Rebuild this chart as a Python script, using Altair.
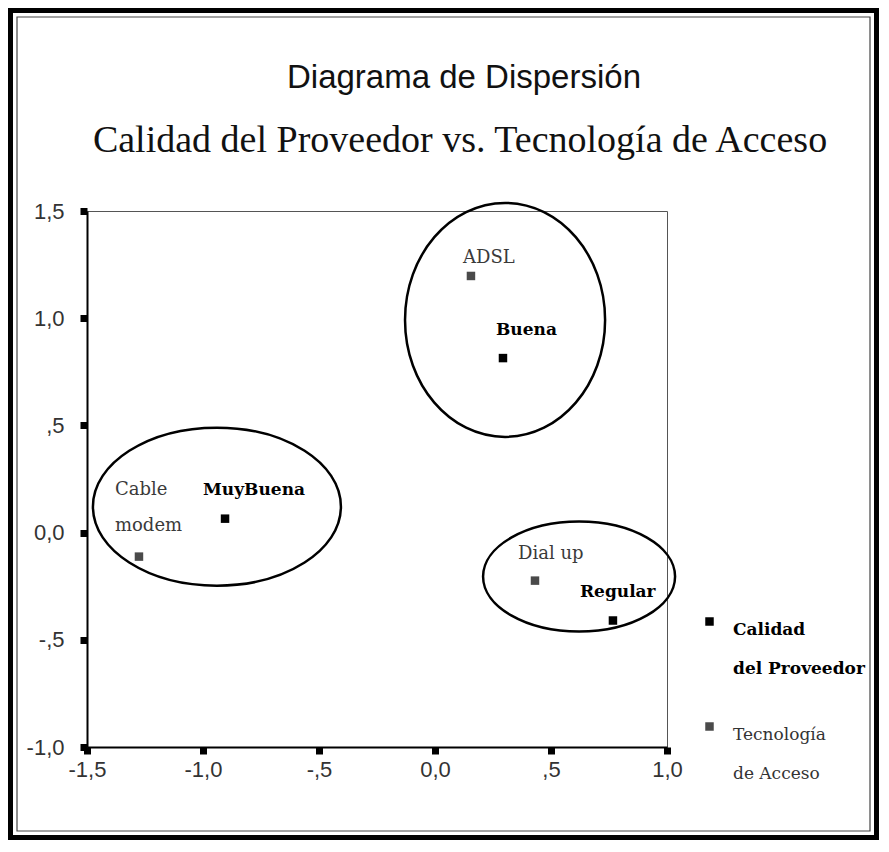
import altair as alt
import pandas as pd

# ---------------- data ----------------
title_1 = "Diagrama de Dispersión"
title_2 = "Calidad del Proveedor vs. Tecnología de Acceso"

series_names = ["Calidad del Proveedor", "Tecnología de Acceso"]
legend_lines = [["Calidad", "del Proveedor"], ["Tecnología", "de Acceso"]]

calidad_names = ["MuyBuena", "Buena", "Regular"]
calidad_x = [-0.905, 0.293, 0.767]
calidad_y = [0.065, 0.814, -0.410]

tecno_names = ["Cable\nmodem", "ADSL", "Dial up"]
tecno_x = [-1.276, 0.155, 0.431]
tecno_y = [-0.112, 1.197, -0.224]

# centres of the three grouping ellipses (data units)
group_names = ["g1", "g2", "g3"]
group_x = [-0.940, 0.302, 0.621]
group_y = [0.121, 0.992, -0.205]

x_tick_values = [-1.5, -1.0, -0.5, 0.0, 0.5, 1.0]
x_tick_labels = ["-1,5", "-1,0", "-,5", "0,0", ",5", "1,0"]
y_tick_values = [-1.0, -0.5, 0.0, 0.5, 1.0, 1.5]
y_tick_labels = ["-1,0", "-,5", "0,0", ",5", "1,0", "1,5"]

# ---------------- styles ----------------
W, H = 580, 536
label_offsets = {
    "MuyBuena": (-22, -24), "Buena": (-7, -23), "Regular": (-33, -24),
    "Cable\nmodem": (-24, -62), "ADSL": (-8, -13), "Dial up": (-17, -22),
}
ellipse_style = {
    "g1": ("M-1,0A1,0.637,0,1,1,1,0A1,0.637,0,1,1,-1,0Z", 248 ** 2),
    "g2": ("M0,-1A0.855,1,0,1,1,0,1A0.855,1,0,1,1,0,-1Z", 234 ** 2),
    "g3": ("M-1,0A1,0.573,0,1,1,1,0A1,0.573,0,1,1,-1,0Z", 192 ** 2),
}

def label_expr(vals, labs):
    s = "''"
    for v, l in reversed(list(zip(vals, labs))):
        s = f"datum.value == {v} ? '{l}' : ({s})"
    return s

legend_expr = (
    f"datum.value == '{series_names[0]}' ? ['{legend_lines[0][0]}','{legend_lines[0][1]}'] : "
    f"['{legend_lines[1][0]}','{legend_lines[1][1]}']"
)

points = pd.DataFrame({
    "name": calidad_names + tecno_names,
    "x": calidad_x + tecno_x,
    "y": calidad_y + tecno_y,
    "serie": [series_names[0]] * 3 + [series_names[1]] * 3,
})
groups = pd.DataFrame({"g": group_names, "x": group_x, "y": group_y})

xscale = alt.Scale(domain=[-1.5, 1.0], nice=False, zero=False)
yscale = alt.Scale(domain=[-1.0, 1.5], nice=False, zero=False)

X = alt.X("x:Q", scale=xscale, title=None,
          axis=alt.Axis(values=x_tick_values, labelExpr=label_expr(x_tick_values, x_tick_labels),
                        labelPadding=5, labelFlush=False))
Y = alt.Y("y:Q", scale=yscale, title=None,
          axis=alt.Axis(values=y_tick_values, labelExpr=label_expr(y_tick_values, y_tick_labels),
                        labelPadding=16, labelFlush=False))

one = alt.Data(values=[{"k": 0}])

# frame around the whole figure
frame_outer = alt.Chart(one).mark_rect(fill=None, stroke="black", strokeWidth=5).encode(
    x=alt.value(-76.5), x2=alt.value(789.5), y=alt.value(-200.5), y2=alt.value(626.5))
frame_inner = alt.Chart(one).mark_rect(fill=None, stroke="#444", strokeWidth=1.2).encode(
    x=alt.value(-70), x2=alt.value(783), y=alt.value(-194), y2=alt.value(620))

t1 = alt.Chart(one).mark_text(text=title_1, font="Liberation Sans", fontSize=33,
                              align="center", baseline="middle", color="#111").encode(
    x=alt.value(377), y=alt.value(-133))
t2 = alt.Chart(one).mark_text(text=title_2, font="Liberation Serif", fontSize=38,
                              align="center", baseline="middle", color="#111").encode(
    x=alt.value(373), y=alt.value(-70))

ell_layers = []
for g in group_names:
    path, size = ellipse_style[g]
    ell_layers.append(
        alt.Chart(groups).transform_filter(alt.datum.g == g)
        .mark_point(shape=path, size=size, filled=False, stroke="black",
                    strokeWidth=2.5, opacity=1)
        .encode(x=X, y=Y)
    )

pts = alt.Chart(points).mark_square(size=72, opacity=1).encode(
    x=X, y=Y,
    color=alt.Color("serie:N",
                    scale=alt.Scale(domain=series_names, range=["#000000", "#4a4a4a"]),
                    legend=alt.Legend(
                        title=None, orient="none", legendX=614, legendY=402, padding=0,
                        symbolType="square", symbolSize=72, symbolStrokeWidth=0,
                        labelExpr=legend_expr, labelFont="DejaVu Serif", labelFontSize=17,
                        labelFontWeight=alt.ExprRef(f"datum.value == '{series_names[0]}' ? 'bold' : 'normal'"),
                        labelColor=alt.ExprRef(f"datum.value == '{series_names[0]}' ? '#000' : '#333'"),
                        labelBaseline="top", labelOffset=15, rowPadding=41, labelLimit=220)),
)

lab_layers = []
for n in calidad_names + tecno_names:
    dx, dy = label_offsets[n]
    is_cal = n in calidad_names
    lab_layers.append(
        alt.Chart(points).transform_filter(alt.datum.name == n)
        .mark_text(align="left", baseline="alphabetic", dx=dx, dy=dy,
                   font="DejaVu Serif", fontSize=17 if is_cal else 18,
                   fontWeight="bold" if is_cal else "normal",
                   color="#000" if is_cal else "#3a3a3a",
                   lineBreak="\n", lineHeight=36)
        .encode(x=X, y=Y, text="name:N")
    )

chart = alt.layer(frame_outer, frame_inner, t1, t2, *ell_layers, pts, *lab_layers).properties(
    width=W, height=H, padding=0
).configure(
    style={"guide-label": {"lineHeight": 39}}
).configure_view(
    stroke="#555", strokeWidth=1
).configure_axis(
    grid=False, domainColor="black", domainWidth=2, tickColor="black",
    tickWidth=7, tickSize=7, labelFont="Liberation Sans", labelFontSize=22,
    labelColor="#333"
)

chart.save("out.html", embed_options={"renderer": "svg", "actions": False})
